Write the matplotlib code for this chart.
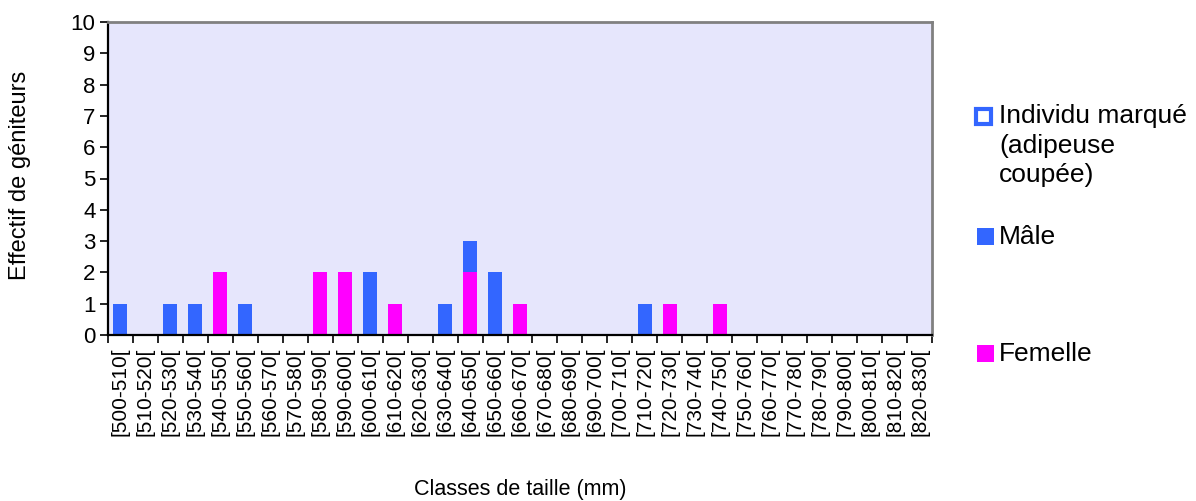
import matplotlib
matplotlib.use("Agg")
import matplotlib.pyplot as plt
from matplotlib.patches import Rectangle
from matplotlib.ticker import FixedLocator, NullFormatter
import numpy as np

plt.rcParams['font.family'] = ['Liberation Sans', 'DejaVu Sans']

categories = [f"[{a}-{a+10}[" for a in range(500, 830, 10)]
femelle = [0, 0, 0, 0, 2, 0, 0, 0, 2, 2, 0, 1, 0, 0, 2, 0, 1, 0, 0, 0, 0, 0, 1, 0, 1, 0, 0, 0, 0, 0, 0, 0, 0]
male =    [1, 0, 1, 1, 0, 1, 0, 0, 0, 0, 2, 0, 0, 1, 1, 2, 0, 0, 0, 0, 0, 1, 0, 0, 0, 0, 0, 0, 0, 0, 0, 0, 0]
marque =  [0] * len(categories)

series_labels = ["Individu marqué\n(adipeuse\ncoupée)", "Mâle", "Femelle"]
c_blue = "#3366FF"
c_mag = "#FF00FF"

fig = plt.figure(figsize=(11.96, 5.01), dpi=100)
ax = fig.add_axes([108/1196, 1-335/501, (932-108)/1196, (335-22)/501])
ax.set_facecolor("#e6e6fc")

x = np.arange(len(categories))
fem = np.array(femelle)
mal = np.array(male)
mar = np.array(marque)
w = 0.56
ax.bar(x, fem, width=w, color=c_mag, linewidth=0, zorder=2)
ax.bar(x, mal, width=w, bottom=fem, color=c_blue, linewidth=0, zorder=2)
ax.bar(x, mar, width=w, bottom=fem + mal, facecolor="white", edgecolor=c_blue,
       linewidth=[1.5 if v > 0 else 0 for v in marque], zorder=2)

ax.set_xlim(-0.5, len(categories) - 0.5)
ax.set_ylim(0, 10)
ax.set_yticks(range(0, 11))
ax.tick_params(axis='y', labelsize=16, length=6, width=1.2, direction='out', pad=3)

ax.set_xticks(x)
ax.set_xticklabels(categories, rotation=90, fontsize=15)
ax.tick_params(axis='x', which='major', length=0, pad=9)
ax.xaxis.set_minor_locator(FixedLocator(np.arange(-0.5, len(categories), 1.0)))
ax.xaxis.set_minor_formatter(NullFormatter())
ax.tick_params(axis='x', which='minor', length=6, width=1.2, direction='out')

for s in ['left', 'bottom']:
    ax.spines[s].set_color('black')
    ax.spines[s].set_linewidth(1.6)
for s in ['top', 'right']:
    ax.spines[s].set_color('#808080')
    ax.spines[s].set_linewidth(2.0)

fig.text(20/1196, 1-175/501, "Effectif de géniteurs", rotation=90, ha='center', va='center', fontsize=17)
fig.text(520/1196, 1-489/501, "Classes de taille (mm)", ha='center', va='center', fontsize=15.5)

# Legend (manual placement)
W, H = 1196, 501
def sq(x0, y0, s, fc, ec, lw=0):
    fig.add_artist(Rectangle((x0/W, 1-(y0+s)/H), s/W, s/H, transform=fig.transFigure,
                             facecolor=fc, edgecolor=ec, linewidth=lw))

sq(976, 109, 15, 'white', c_blue, 3.0)
fig.text(999/W, 1-104/H, series_labels[0], ha='left', va='top', fontsize=19,
         linespacing=1.3)
sq(977, 228, 17, c_blue, c_blue)
fig.text(999/W, 1-237/H, series_labels[1], ha='left', va='center', fontsize=19)
sq(977, 345, 17, c_mag, c_mag)
fig.text(999/W, 1-354/H, series_labels[2], ha='left', va='center', fontsize=19)

fig.savefig("out.png", dpi=100)
